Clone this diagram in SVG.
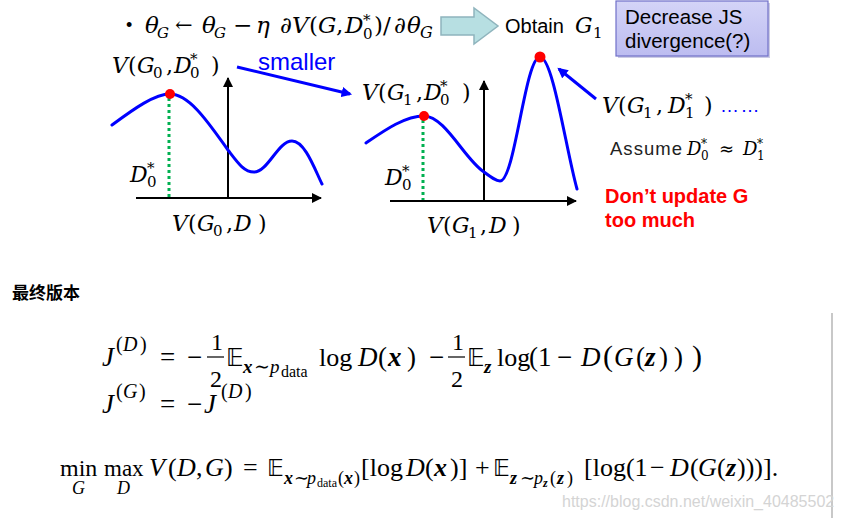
<svg xmlns="http://www.w3.org/2000/svg" width="841" height="518" viewBox="0 0 841 518">
<defs>
<style>
.c{font-family:"DejaVu Serif","Liberation Serif",serif;font-style:italic;fill:#000}
.cr{font-family:"DejaVu Serif","Liberation Serif",serif;font-style:normal;fill:#000}
.m{font-family:"Liberation Serif","DejaVu Serif",serif;font-style:italic;fill:#000}
.r{font-family:"Liberation Serif","DejaVu Serif",serif;font-style:normal;fill:#000}
.bb{font-family:"DejaVu Sans","DejaVu Serif",serif;font-style:normal;fill:#000}
.bx{font-family:"Liberation Serif","DejaVu Serif",serif;font-style:italic;font-weight:bold;fill:#000}
.sans{font-family:"Liberation Sans",Arial,sans-serif}
.curve{fill:none;stroke:#0000ff;stroke-width:3;stroke-linecap:round}
.axis{stroke:#000;stroke-width:2;fill:none}
.dot{stroke:#00b050;stroke-width:3;stroke-dasharray:3 3;fill:none}
.red{fill:#ff0000}
.bl{stroke:#0000ff;stroke-width:3;fill:none}
</style>
<marker id="ax" viewBox="0 0 10 10" refX="9" refY="5" markerWidth="5" markerHeight="5" orient="auto" markerUnits="strokeWidth"><path d="M0,0 L10,5 L0,10 z" fill="#000"/></marker>
<marker id="ba" viewBox="0 0 10 10" refX="8" refY="5" markerWidth="3.5" markerHeight="3.5" orient="auto" markerUnits="strokeWidth"><path d="M0,0 L10,5 L0,10 z" fill="#0000ff"/></marker>
<linearGradient id="pg" x1="0" y1="0" x2="0" y2="1"><stop offset="0" stop-color="#d4d4f7"/><stop offset="1" stop-color="#bcbcf0"/></linearGradient>
</defs>
<rect width="841" height="518" fill="#fff"/>

<g id="update-rule">
<text x="126" y="31" class="sans" font-size="18">•</text>
<text class="c" font-size="23"><tspan x="145" y="33">θ</tspan><tspan x="157" y="38" font-size="15">G</tspan><tspan x="175" y="32" class="cr" font-size="21">←</tspan><tspan x="202" y="33">θ</tspan><tspan x="214" y="38" font-size="15">G</tspan><tspan x="233" y="33" class="cr">−</tspan><tspan x="256" y="33">η</tspan><tspan x="280" y="33">∂</tspan><tspan x="292" y="33">V</tspan><tspan x="309" y="33" class="cr">(</tspan><tspan x="318" y="33">G</tspan><tspan x="336" y="33" class="cr">,</tspan><tspan x="345" y="33">D</tspan><tspan x="363" y="39" font-size="15" class="cr">0</tspan><tspan x="363" y="25" font-size="15" class="cr">*</tspan><tspan x="374" y="33" class="cr">)</tspan><tspan x="383" y="33" class="cr">/</tspan><tspan x="394" y="33">∂</tspan><tspan x="407" y="33">θ</tspan><tspan x="420" y="38" font-size="16">G</tspan></text>
</g>

<g id="connectors">
<path d="M441,17 L474,17 L474,8 L498,26 L474,44 L474,35 L441,35 Z" fill="#b7dfe2" stroke="#8fb4bd" stroke-width="1.5"/>
<line x1="237" y1="67" x2="350" y2="94" class="bl" marker-end="url(#ba)"/>
<line x1="596" y1="99" x2="559" y2="69" class="bl" marker-end="url(#ba)"/>
</g>

<g id="obtain">
<text x="505" y="33" class="sans" font-size="20">Obtain</text>
<text x="575" y="33" class="c" font-size="22">G</text>
<text x="593" y="38" class="cr" font-size="15">1</text>
</g>

<g id="js-box">
<rect x="618" y="3" width="152" height="55" fill="#9a9acc" opacity="0.5"/>
<rect x="616" y="1" width="152" height="55" fill="url(#pg)" stroke="#7070c8" stroke-width="1.2"/>
<text x="625" y="24" class="sans" font-size="20.5">Decrease JS</text>
<text x="625" y="48" class="sans" font-size="20.5">divergence(?)</text>
</g>

<g id="graph-g0">
<text class="c" font-size="22"><tspan x="112" y="73">V</tspan><tspan x="128" y="73" class="cr">(</tspan><tspan x="137" y="73">G</tspan><tspan x="153" y="78" font-size="15" class="cr">0</tspan><tspan x="166" y="73" class="cr">,</tspan><tspan x="174" y="73">D</tspan><tspan x="190" y="78" font-size="15" class="cr">0</tspan><tspan x="190" y="64" font-size="15" class="cr">*</tspan><tspan x="211" y="73" class="cr">)</tspan></text>
<line x1="228" y1="198" x2="228" y2="78" class="axis" marker-end="url(#ax)"/>
<line x1="136" y1="198" x2="321" y2="198" class="axis" marker-end="url(#ax)"/>
<line x1="169" y1="98" x2="169" y2="197" class="dot"/>
<path d="M112,125 C135,108 155,94 170,94 C190,94 210,125 228,150 C238,163 244,172 254,172 C268,172 278,141 292,141 C305,141 315,170 322,184" class="curve"/>
<circle cx="170" cy="94" r="5" class="red"/>
<text class="c" font-size="22"><tspan x="130" y="182">D</tspan><tspan x="147" y="187" font-size="15" class="cr">0</tspan><tspan x="147" y="173" font-size="15" class="cr">*</tspan></text>
<text class="c" font-size="22"><tspan x="172" y="231">V</tspan><tspan x="188" y="231" class="cr">(</tspan><tspan x="197" y="231">G</tspan><tspan x="213" y="236" font-size="15" class="cr">0</tspan><tspan x="226" y="231" class="cr">,</tspan><tspan x="234" y="231">D</tspan><tspan x="258" y="231" class="cr">)</tspan></text>
</g>

<text x="258" y="70" class="sans" font-size="24" fill="#0000ff">smaller</text>

<g id="graph-g1">
<text class="c" font-size="22"><tspan x="362" y="100">V</tspan><tspan x="378" y="100" class="cr">(</tspan><tspan x="387" y="100">G</tspan><tspan x="403" y="105" font-size="15" class="cr">1</tspan><tspan x="416" y="100" class="cr">,</tspan><tspan x="424" y="100">D</tspan><tspan x="440" y="105" font-size="15" class="cr">0</tspan><tspan x="440" y="91" font-size="15" class="cr">*</tspan><tspan x="462" y="100" class="cr">)</tspan></text>
<line x1="484" y1="201" x2="484" y2="81" class="axis" marker-end="url(#ax)"/>
<line x1="390" y1="201" x2="576" y2="201" class="axis" marker-end="url(#ax)"/>
<line x1="423" y1="120" x2="423" y2="200" class="dot"/>
<path d="M366,143 C385,130 405,116 424,116 C445,116 465,160 484,172 C492,178 496,181 500,181 C515,181 525,57 540,57 C553,57 566,150 577,189" class="curve"/>
<circle cx="424" cy="116" r="5" class="red"/>
<circle cx="540" cy="57" r="5.5" class="red"/>
<text class="c" font-size="22"><tspan x="385" y="185">D</tspan><tspan x="402" y="190" font-size="15" class="cr">0</tspan><tspan x="402" y="176" font-size="15" class="cr">*</tspan></text>
<text class="c" font-size="22"><tspan x="427" y="233">V</tspan><tspan x="443" y="233" class="cr">(</tspan><tspan x="452" y="233">G</tspan><tspan x="468" y="238" font-size="15" class="cr">1</tspan><tspan x="480" y="233" class="cr">,</tspan><tspan x="489" y="233">D</tspan><tspan x="512" y="233" class="cr">)</tspan></text>
</g>

<g id="notes">
<text class="c" font-size="22"><tspan x="602" y="113">V</tspan><tspan x="618" y="113" class="cr">(</tspan><tspan x="627" y="113">G</tspan><tspan x="643" y="118" font-size="15" class="cr">1</tspan><tspan x="656" y="113" class="cr">,</tspan><tspan x="668" y="113">D</tspan><tspan x="685" y="118" font-size="15" class="cr">1</tspan><tspan x="685" y="104" font-size="15" class="cr">*</tspan><tspan x="704" y="113" class="cr">)</tspan></text>
<text x="720" y="112" class="sans" font-size="19" fill="#0000ff" letter-spacing="1.5">……</text>
<text x="610" y="155" class="sans" font-size="18.5" textLength="72" fill="#222">Assume</text>
<text class="c" font-size="18"><tspan x="687" y="155">D</tspan><tspan x="701" y="160" font-size="12" class="cr">0</tspan><tspan x="701" y="148" font-size="12" class="cr">*</tspan><tspan x="719" y="155" class="cr">≈</tspan><tspan x="743" y="155">D</tspan><tspan x="757" y="160" font-size="12" class="cr">1</tspan><tspan x="757" y="148" font-size="12" class="cr">*</tspan></text>
<text x="605" y="203" class="sans" font-size="20" font-weight="bold" fill="#ff0000">Don’t update G</text>
<text x="605" y="227" class="sans" font-size="20" font-weight="bold" fill="#ff0000">too much</text>
</g>

<text x="12" y="299" font-family="'Noto Sans CJK SC','Noto Sans',sans-serif" font-size="17" font-weight="bold">最终版本</text>

<line x1="832" y1="313" x2="832" y2="518" stroke="#c8c8c8" stroke-width="2"/>

<g id="eq-jd" font-size="27">
<text class="m" x="102" y="366">J</text>
<text class="r" font-size="20"><tspan x="116" y="351">(</tspan><tspan x="123" y="351" class="m">D</tspan><tspan x="140" y="351">)</tspan></text>
<text class="r" x="160" y="366">=</text>
<text class="r" x="187" y="366">−</text>
<text class="r" x="211" y="350" font-size="24">1</text>
<line x1="207" y1="357" x2="224" y2="357" stroke="#000" stroke-width="1.2"/>
<text class="r" x="210" y="387" font-size="24">2</text>
<text class="bb" x="226" y="366" font-size="24">𝔼</text>
<text font-size="19"><tspan x="243" y="373" class="bx">x</tspan><tspan x="254" y="373" class="r">∼</tspan><tspan x="270" y="373" class="m">p</tspan><tspan x="281" y="377" font-size="16" class="r">data</tspan></text>
<text class="r" x="319" y="366" font-size="26">log</text>
<text class="m" x="358" y="366">D</text>
<text class="r" x="378" y="366">(</text>
<text class="bx" x="388" y="366">x</text>
<text class="r" x="407" y="366">)</text>
<text class="r" x="429" y="366">−</text>
<text class="r" x="452" y="350" font-size="24">1</text>
<line x1="448" y1="357" x2="465" y2="357" stroke="#000" stroke-width="1.2"/>
<text class="r" x="451" y="387" font-size="24">2</text>
<text class="bb" x="467" y="366" font-size="24">𝔼</text>
<text class="bx" x="484" y="373" font-size="19">z</text>
<text class="r" x="497" y="366" font-size="26">log</text>
<text class="r" x="529" y="366">(1</text>
<text class="r" x="557" y="366">−</text>
<text class="m" x="581" y="366">D</text>
<text class="r" x="603" y="366" font-size="30">(</text>
<text class="m" x="614" y="366">G</text>
<text class="r" x="636" y="366">(</text>
<text class="bx" x="645" y="366">z</text>
<text class="r" x="659" y="366">)</text>
<text class="r" x="674" y="366">)</text>
<text class="r" x="692" y="366" font-size="30">)</text>
</g>

<g id="eq-jg" font-size="27">
<text class="m" x="102" y="413">J</text>
<text class="r" font-size="20"><tspan x="116" y="398">(</tspan><tspan x="123" y="398" class="m">G</tspan><tspan x="139" y="398">)</tspan></text>
<text class="r" x="160" y="413">=</text>
<text class="r" x="187" y="413">−</text>
<text class="m" x="204" y="413">J</text>
<text class="r" font-size="20"><tspan x="221" y="398">(</tspan><tspan x="228" y="398" class="m">D</tspan><tspan x="245" y="398">)</tspan></text>
</g>

<g id="eq-minmax" font-size="26">
<text class="r" x="60" y="476" font-size="24">min</text>
<text class="m" x="72" y="494" font-size="18">G</text>
<text class="r" x="104" y="476" font-size="23">max</text>
<text class="m" x="117" y="494" font-size="18">D</text>
<text class="m" x="149" y="476">V</text>
<text class="r" x="168" y="476">(</text>
<text class="m" x="177" y="476">D</text>
<text class="r" x="196" y="476">,</text>
<text class="m" x="205" y="476">G</text>
<text class="r" x="224" y="476">)</text>
<text class="r" x="243" y="476">=</text>
<text class="bb" x="267" y="476" font-size="23">𝔼</text>
<text font-size="18"><tspan x="284" y="484" class="bx">x</tspan><tspan x="294" y="484" class="r">∼</tspan><tspan x="307" y="484" class="m">p</tspan><tspan x="317" y="487" font-size="12" class="r">data</tspan><tspan x="338" y="484" class="r">(</tspan><tspan x="344" y="484" class="bx">x</tspan><tspan x="354" y="484" class="r">)</tspan></text>
<text class="r" x="361" y="476">[log</text>
<text class="m" x="406" y="476">D</text>
<text class="r" x="425" y="476">(</text>
<text class="bx" x="434" y="476">x</text>
<text class="r" x="450" y="476">)]</text>
<text class="r" x="475" y="476">+</text>
<text class="bb" x="493" y="476" font-size="23">𝔼</text>
<text font-size="18"><tspan x="510" y="484" class="bx">z</tspan><tspan x="520" y="484" class="r">∼</tspan><tspan x="534" y="484" class="m">p</tspan><tspan x="543" y="487" font-size="12" class="bx">z</tspan><tspan x="550" y="484" class="r">(</tspan><tspan x="557" y="484" class="bx">z</tspan><tspan x="567" y="484" class="r">)</tspan></text>
<text class="r" x="584" y="476">[log(1</text>
<text class="r" x="650" y="476">−</text>
<text class="m" x="670" y="476">D</text>
<text class="r" x="690" y="476">(</text>
<text class="m" x="698" y="476">G</text>
<text class="r" x="717" y="476">(</text>
<text class="bx" x="726" y="476">z</text>
<text class="r" x="737" y="476">)))].</text>
</g>

<text x="562" y="507" class="sans" font-size="16" fill="#d4d4d4">https://blog.csdn.net/weixin_40485502</text>
</svg>
